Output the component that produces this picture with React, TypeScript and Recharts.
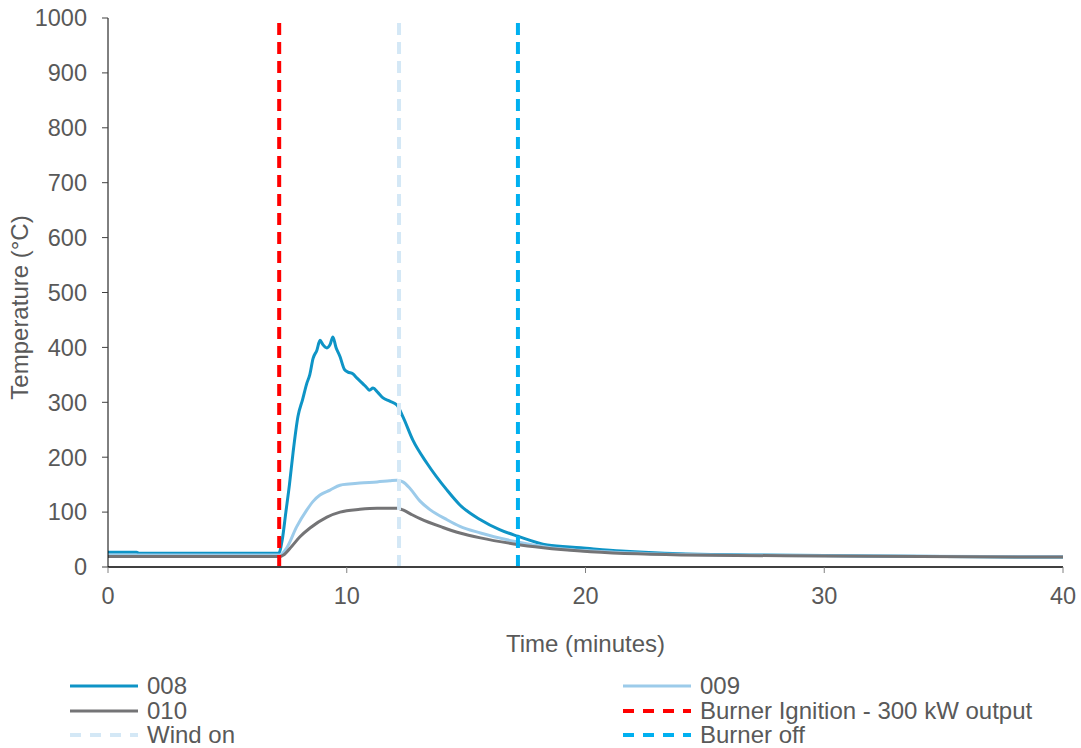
import { LineChart, Line, XAxis, YAxis, Label } from 'recharts'

// time in minutes, temperature in °C
const t008 = [0, 1.2, 1.3, 7.15, 7.3, 7.45, 7.6, 7.75, 7.96, 8.15, 8.33, 8.45, 8.59, 8.75, 8.88, 9.0, 9.17, 9.3, 9.42, 9.55, 9.72, 9.9, 10.05, 10.25, 10.43, 10.65, 10.85, 10.95, 11.1, 11.3, 11.52, 11.8, 12.1, 12.36, 12.77, 13.36, 14.2, 14.74, 15.6, 16.4, 17.17, 18.4, 19.8, 21.5, 24, 27, 30, 32, 35, 40]
const v008 = [27, 27, 25, 25, 50, 100, 150, 208, 275, 305, 335, 350, 380, 395, 413, 405, 399, 405, 419, 400, 383, 360, 355, 352, 344, 335, 326, 322, 326, 318, 308, 302, 295, 273, 231, 189, 140, 113, 86, 68, 56, 40, 35, 29, 24, 22, 21, 20, 19, 18]

const t009 = [0, 7.2, 7.5, 7.9, 8.33, 8.6, 8.88, 9.3, 9.72, 10.1, 10.55, 11.27, 11.8, 12.1, 12.35, 12.65, 13.07, 13.5, 14.2, 14.74, 15.6, 17, 18.4, 21.2, 24, 28, 32, 40]
const v009 = [22, 22, 36, 73, 104, 120, 131, 140, 149, 151, 153, 155, 157, 158, 155, 143, 120, 104, 86, 74, 62, 47, 36, 27, 23, 21, 20, 19]

const t010 = [0, 7.2, 7.35, 7.7, 8.04, 8.46, 9.17, 9.72, 10.55, 11.27, 12.1, 12.35, 12.7, 13.07, 14.03, 14.74, 15.6, 17, 19.8, 24, 30, 40]
const v010 = [19, 19, 22, 38, 55, 71, 91, 100, 105, 107, 107, 104, 96, 88, 72, 62, 53, 42, 29, 22, 20, 18]

const ignitionTime = 7.17
const windOnTime = 12.19
const burnerOffTime = 17.17

const xTicks = [0, 10, 20, 30, 40]
const yTicks = [0, 100, 200, 300, 400, 500, 600, 700, 800, 900, 1000]

const toPoints = (ts: number[], vs: number[]) => ts.map((t, i) => ({ t, v: vs[i] }))
const vline = (t: number) => [{ t, v: 0 }, { t, v: 1000 }]

const series = [
  { name: '008', data: toPoints(t008, v008), color: '#0e94c6', width: 3, dash: undefined },
  { name: '009', data: toPoints(t009, v009), color: '#9ccbea', width: 3, dash: undefined },
  { name: '010', data: toPoints(t010, v010), color: '#747476', width: 3, dash: undefined },
  { name: 'Burner Ignition - 300 kW output', data: vline(ignitionTime), color: '#ff0000', width: 4, dash: '12 7' },
  { name: 'Wind on', data: vline(windOnTime), color: '#d4e8f6', width: 4, dash: '12 7' },
  { name: 'Burner off', data: vline(burnerOffTime), color: '#00b0f0', width: 4, dash: '12 7' },
]

const font = '"Liberation Sans", Arial, sans-serif'
const grey = '#595959'

function ChartLegend() {
  return (
    <div
      style={{
        position: 'absolute',
        left: 70,
        top: 674,
        display: 'grid',
        gridTemplateColumns: '553px auto',
        gridAutoRows: '24.5px',
        fontFamily: font,
        fontSize: 24,
        color: grey,
      }}
    >
      {series.map((s) => (
        <div key={s.name} style={{ display: 'flex', alignItems: 'center', whiteSpace: 'nowrap' }}>
          <svg width={68} height={6} style={{ marginRight: 9 }}>
            <line x1={0} y1={3} x2={68} y2={3} stroke={s.color} strokeWidth={s.width} strokeDasharray={s.dash ? '11 9' : undefined} />
          </svg>
          <span style={{ display: 'inline-block', height: 24, lineHeight: '24px' }}>{s.name}</span>
        </div>
      ))}
    </div>
  )
}

export default function App() {
  return (
    <div style={{ position: 'absolute', left: 0, top: 0, width: 1081, height: 748, background: '#fff', fontFamily: font }}>
      <LineChart width={1081} height={748} margin={{ top: 18, right: 18, left: 0, bottom: 0 }}>
        <XAxis
          type="number"
          dataKey="t"
          domain={[0, 40]}
          ticks={xTicks}
          height={181}
          axisLine={{ stroke: '#404040', strokeWidth: 2 }}
          tickLine={{ stroke: '#808080' }}
          tickSize={6}
          tickMargin={14}
          tick={{ fill: grey, fontSize: 23.5, fontFamily: font }}
        >
          <Label value="Time (minutes)" position="insideTop" offset={68} fill={grey} fontSize={24} fontFamily={font} />
        </XAxis>
        <YAxis
          type="number"
          dataKey="v"
          domain={[0, 1000]}
          ticks={yTicks}
          width={108}
          axisLine={{ stroke: '#000000' }}
          tickLine={{ stroke: '#404040' }}
          tickSize={6}
          tickMargin={15}
          tick={{ fill: grey, fontSize: 23.5, fontFamily: font }}
        >
          <Label
            content={(props: any) => {
              const vb = props.viewBox || { x: 0, y: 18, width: 108, height: 549 }
              const cx = vb.x + 19
              const cy = vb.y + vb.height / 2 + 15
              return (
                <text
                  x={cx}
                  y={cy}
                  transform={`rotate(-90, ${cx}, ${cy})`}
                  textAnchor="middle"
                  dominantBaseline="central"
                  fill={grey}
                  fontSize={24}
                  fontFamily={font}
                >
                  Temperature (°C)
                </text>
              )
            }}
          />
        </YAxis>
        {series.map((s) => (
          <Line
            key={s.name}
            data={s.data}
            dataKey="v"
            name={s.name}
            type={s.dash ? 'linear' : 'monotone'}
            stroke={s.color}
            strokeWidth={s.width}
            strokeDasharray={s.dash}
            dot={false}
            activeDot={false}
            isAnimationActive={false}
          />
        ))}
      </LineChart>
      <ChartLegend />
    </div>
  )
}
